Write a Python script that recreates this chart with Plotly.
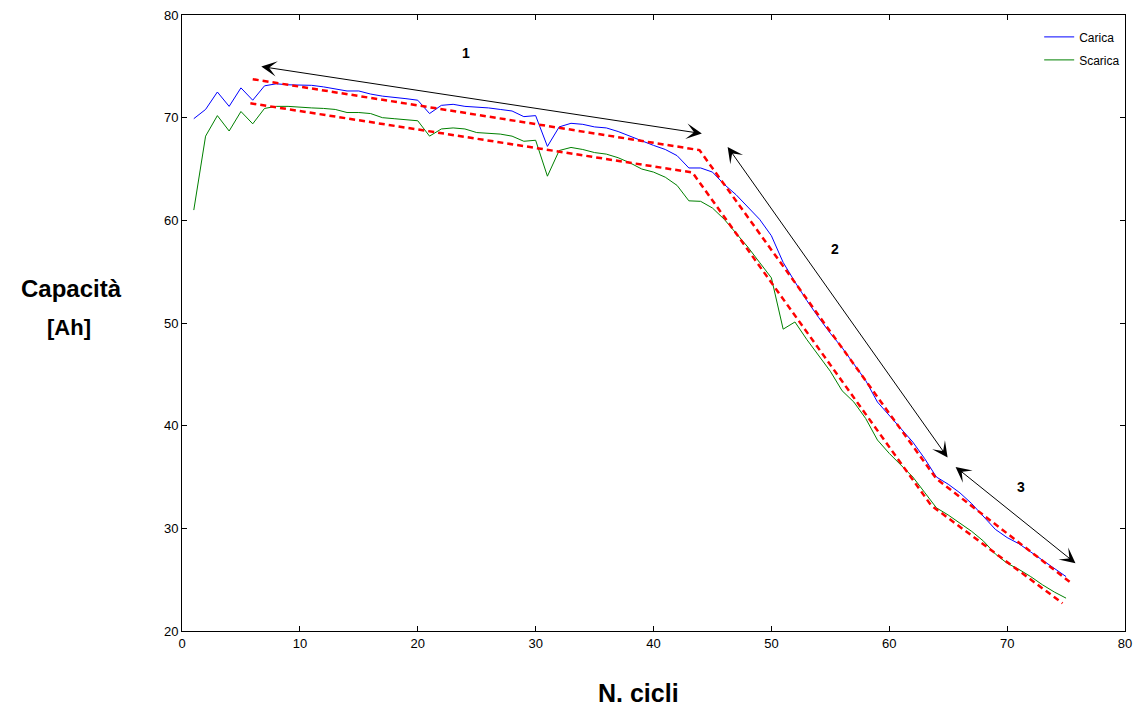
import plotly.graph_objects as go

cicli = list(range(1, 76))
carica = [69.9, 70.8, 72.5, 71.1, 72.9, 71.7, 73.1, 73.3, 73.2, 73.2,
          73.15, 73.0, 72.8, 72.6, 72.6, 72.3, 72.1, 72.0, 71.85, 71.7,
          70.4, 71.2, 71.3, 71.1, 71.05, 70.95, 70.8, 70.65, 70.1, 70.2,
          67.2, 69.1, 69.45, 69.35, 69.1, 69.0, 68.65, 68.2, 67.7, 67.3,
          66.9, 66.3, 65.1, 65.1, 64.7, 63.5, 62.5, 61.3, 60.1, 58.5,
          55.9, 54.0, 52.2, 50.55, 49.0, 47.6, 46.0, 44.4, 42.3, 41.0,
          39.7, 38.4, 36.8, 35.0, 34.3, 33.45, 32.4, 31.2, 29.9, 29.1,
          28.5, 27.7, 26.9, 26.1, 25.3]
scarica = [61.0, 68.2, 70.2, 68.7, 70.6, 69.4, 70.9, 71.1, 71.1, 71.0,
           70.95, 70.9, 70.8, 70.5, 70.5, 70.4, 70.0, 69.9, 69.8, 69.7,
           68.2, 68.9, 69.0, 68.9, 68.55, 68.5, 68.4, 68.2, 67.7, 67.8,
           64.3, 66.8, 67.1, 66.9, 66.6, 66.45, 66.1, 65.6, 65.0, 64.7,
           64.2, 63.4, 61.9, 61.85, 61.2, 60.1, 58.8, 57.4, 55.9, 54.4,
           49.4, 50.1, 48.4, 46.9, 45.3, 43.4, 42.3, 40.7, 38.6, 37.3,
           36.1, 35.0, 33.5, 32.0, 31.3, 30.5, 29.7, 28.75, 27.5, 26.6,
           26.0, 25.3, 24.5, 23.8, 23.2]

# piecewise trend lines (red dashed)
fit_car_x = [6.0, 43.9, 64.0, 75.3]
fit_car_y = [73.75, 66.84, 34.83, 24.8]
fit_sca_x = [5.8, 43.3, 63.55, 74.7]
fit_sca_y = [71.4, 64.66, 32.24, 22.7]

# double arrows (x0, y0, x1, y1) in data units and phase labels
arrows = [(6.6, 75.0, 44.1, 68.45),
          (46.2, 67.3, 64.95, 36.9),
          (65.5, 36.1, 75.8, 26.6)]
phase_labels = ["1", "2", "3"]
phase_x = [24.1, 55.4, 71.2]
phase_y = [76.3, 57.2, 34.0]

tick_font = dict(family="Liberation Sans Narrow, Arial Narrow, Liberation Sans, Arial", size=13, color="black")

fig = go.Figure()
fig.add_trace(go.Scatter(x=cicli, y=carica, mode="lines", name="Carica",
                         legendgroup="a", line=dict(color="#0000FF", width=1)))
fig.add_trace(go.Scatter(x=cicli, y=scarica, mode="lines", name="Scarica",
                         legendgroup="b", line=dict(color="#008000", width=1)))
fig.add_trace(go.Scatter(x=fit_car_x, y=fit_car_y, mode="lines", showlegend=False,
                         line=dict(color="#FF0000", width=2.5, dash="6px,4px")))
fig.add_trace(go.Scatter(x=fit_sca_x, y=fit_sca_y, mode="lines", showlegend=False,
                         line=dict(color="#FF0000", width=2.5, dash="6px,4px")))

annotations = []
for (x0, y0, x1, y1) in arrows:
    annotations.append(dict(x=x1, y=y1, ax=x0, ay=y0, xref="x", yref="y",
                            axref="x", ayref="y", text="", showarrow=True,
                            arrowhead=3, startarrowhead=3, arrowside="end+start",
                            arrowsize=2.6, startarrowsize=2.6, arrowwidth=1,
                            arrowcolor="black", standoff=0, startstandoff=0))
for t, x, y in zip(phase_labels, phase_x, phase_y):
    annotations.append(dict(x=x, y=y, xref="x", yref="y", text="<b>" + t + "</b>",
                            showarrow=False, font=dict(family="Liberation Sans Narrow, Arial Narrow, Liberation Sans, Arial", size=14, color="black")))
annotations.append(dict(x=71, y=288, xref="paper", yref="paper", text="<b>Capacità</b>",
                        xanchor="center", yanchor="middle",
                        showarrow=False, font=dict(family="Liberation Sans, Arial", size=24, color="black")))
annotations.append(dict(x=68, y=327, xref="paper", yref="paper", text="<b>[Ah]</b>",
                        xanchor="center", yanchor="middle",
                        showarrow=False, font=dict(family="Liberation Sans, Arial", size=22, color="black")))
annotations.append(dict(x=642, y=693, xref="paper", yref="paper", text="<b>N. cicli</b>",
                        xanchor="center", yanchor="middle",
                        showarrow=False, font=dict(family="Liberation Sans, Arial", size=25, color="black")))

# convert pixel-positioned labels to paper coords
L, R, T, B = 182, 8, 14, 77
W, H = 1140, 708
pw, ph = W - L - R, H - T - B
for a in annotations[-3:]:
    a["x"] = (a["x"] - L) / pw
    a["y"] = 1 - (a["y"] - T) / ph

fig.update_layout(
    width=W, height=H,
    margin=dict(l=L, r=R, t=T, b=B),
    plot_bgcolor="white", paper_bgcolor="white",
    annotations=annotations,
    legend=dict(x=0.909, y=0.988, xanchor="left", yanchor="top",
                bgcolor="rgba(0,0,0,0)", tracegroupgap=4,
                font=dict(family="Liberation Sans, Arial", size=12, color="black")),
    xaxis=dict(range=[0, 80], dtick=10, tick0=0, showgrid=False, zeroline=False,
               showline=True, linecolor="black", linewidth=1, mirror="ticks",
               ticks="inside", ticklen=5, tickcolor="black", tickfont=tick_font),
    yaxis=dict(range=[20, 80], dtick=10, tick0=20, showgrid=False, zeroline=False,
               showline=True, linecolor="black", linewidth=1, mirror="ticks",
               ticks="inside", ticklen=5, tickcolor="black", tickfont=tick_font),
)

fig.write_html("out.html", config={"displayModeBar": False},
               post_script="document.body.style.margin='0';")
